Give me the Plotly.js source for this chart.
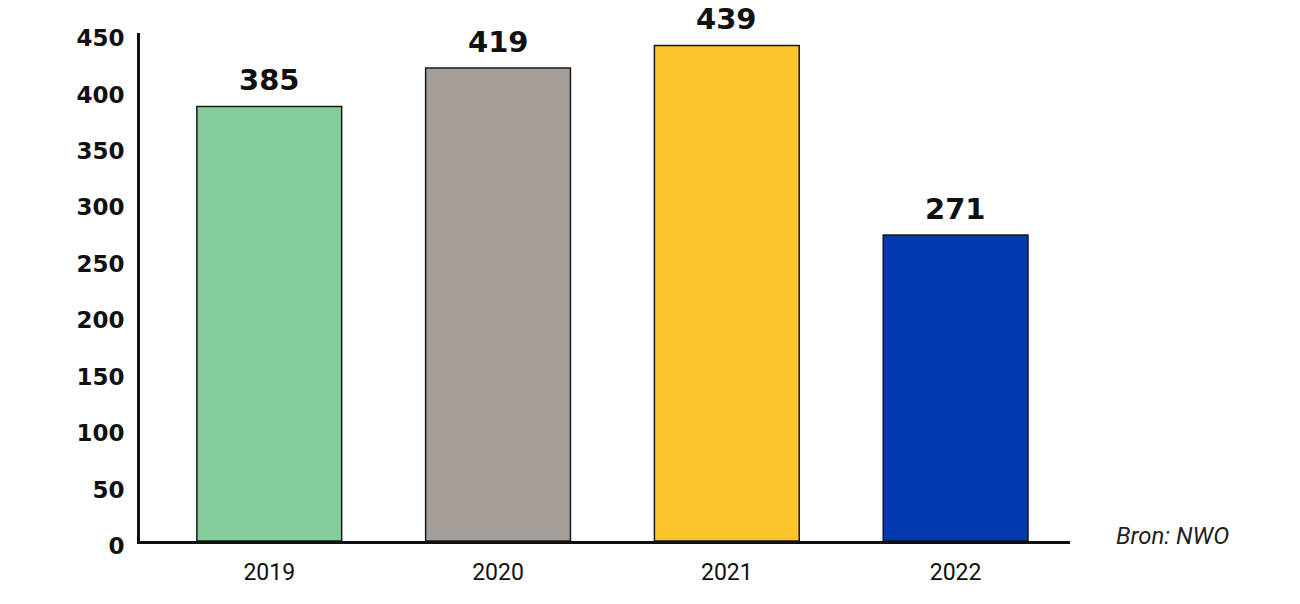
<!DOCTYPE html>
<html>
<head>
<meta charset="utf-8">
<script src="https://cdn.plot.ly/plotly-3.0.1.min.js"></script>
<style>
  html, body { margin: 0; padding: 0; background: #fff; }
  #chart { width: 1300px; height: 604px; }
</style>
</head>
<body>
<div id="chart"></div>
<script>
// Data
const years = ['2019', '2020', '2021', '2022'];
const counts = [385, 419, 439, 271];
const barColors = ['#84cd9a', '#a59d97', '#fdc42b', '#0039b0'];
const yTicks = [0, 50, 100, 150, 200, 250, 300, 350, 400, 450];
const sourceNote = 'Bron: NWO';

const boldFont = '"DejaVu Sans", Arial, sans-serif';

const trace = {
  type: 'bar',
  x: years,
  y: counts,
  width: 0.633,
  marker: { color: barColors, line: { color: '#1a1a1a', width: 1.5 } },
  hoverinfo: 'x+y'
};

// Value labels above each bar (category index, since year names look numeric)
const valueLabels = years.map((yr, i) => ({
  x: i, y: counts[i], xref: 'x', yref: 'y',
  text: '<b>' + counts[i] + '</b>', showarrow: false,
  yanchor: 'bottom', yshift: 7,
  font: { family: boldFont, size: 29, color: '#111' }
}));

const layout = {
  width: 1300, height: 604,
  margin: { l: 140, r: 230, t: 33, b: 63 },
  paper_bgcolor: '#fff',
  plot_bgcolor: '#fff',
  showlegend: false,
  xaxis: {
    type: 'category',
    range: [-0.565, 3.5],
    showline: true, linecolor: '#111', linewidth: 3,
    showgrid: false, zeroline: false, ticks: '',
    ticklabelstandoff: 8,
    tickfont: { family: 'Roboto, Arial, sans-serif', size: 23, color: '#111' }
  },
  yaxis: {
    range: [0, 450],
    tickvals: yTicks,
    showline: true, linecolor: '#111', linewidth: 3,
    showgrid: false, zeroline: false, ticks: '',
    ticklabelstandoff: 8,
    ticklabelshift: 5,
    tickfont: { family: boldFont, size: 23, color: '#111', weight: 'bold' }
  },
  annotations: valueLabels.concat([{
    x: 1, xref: 'paper', xanchor: 'left', xshift: 44,
    y: 0, yref: 'y', yanchor: 'middle', yshift: 5,
    text: '<i>' + sourceNote + '</i>', showarrow: false,
    font: { family: 'Roboto, Arial, sans-serif', size: 24, color: '#222' }
  }])
};

Plotly.newPlot('chart', [trace], layout, { displayModeBar: false, responsive: false });
</script>
</body>
</html>
